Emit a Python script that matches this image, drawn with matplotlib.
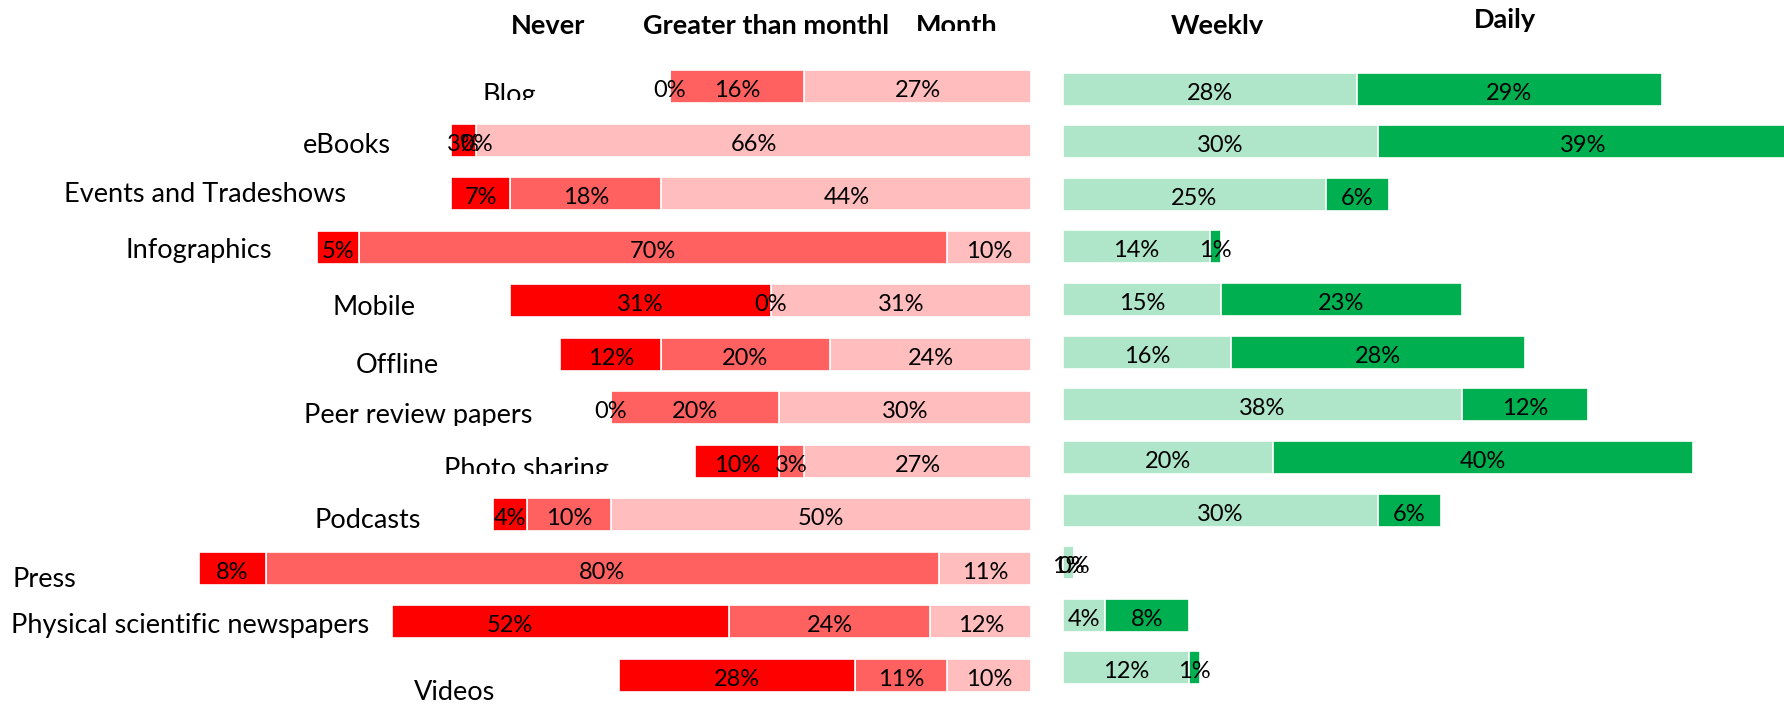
import matplotlib.pyplot as plt
from matplotlib.transforms import Bbox, TransformedBbox, offset_copy

plt.rcParams['font.family'] = ['Lato', 'DejaVu Sans']

categories = ["Blog", "eBooks", "Events and Tradeshows", "Infographics", "Mobile",
              "Offline", "Peer review papers", "Photo sharing", "Podcasts", "Press",
              "Physical scientific newspapers", "Videos"]
never = [0, 3, 7, 5, 31, 12, 0, 10, 4, 8, 52, 28]
gt_monthly = [16, 0, 18, 70, 0, 20, 20, 3, 10, 80, 24, 11]
monthly = [27, 66, 44, 10, 31, 24, 30, 27, 50, 11, 12, 10]
weekly = [28, 30, 25, 14, 15, 16, 38, 20, 30, 1, 4, 12]
daily = [29, 39, 6, 1, 23, 28, 12, 40, 6, 0, 8, 1]
# the Never bar of "Physical scientific newspapers" is drawn shorter than its 52% label
never_drawn = [0, 3, 7, 5, 31, 12, 0, 10, 4, 8, 40, 28]

headers = ["Never", "Greater than monthly", "Monthly", "Weekly", "Daily"]

c_never, c_gtm, c_month = '#FF0000', '#FF6161', '#FFBDBD'
c_week, c_day = '#AFE5C8', '#00B050'

W, H = 1784, 706
fig = plt.figure(figsize=(W / 100, H / 100), dpi=100)


def px_axes(x0, x1, ytop, ybot):
    ax = fig.add_axes([x0 / W, 1 - ybot / H, (x1 - x0) / W, (ybot - ytop) / H])
    ax.set_axis_off()
    return ax


def clip_px(t, x0, x1, ytop, ybot):
    bb = Bbox.from_extents(x0 / W, 1 - ybot / H, x1 / W, 1 - ytop / H)
    t.set_clip_box(TransformedBbox(bb, fig.transFigure))
    t.set_clip_on(True)


n = len(categories)
rows = list(range(n))
fs = 17      # numbers in the bars
fs_lab = 19.5  # category names and headers

# left half: Never / Greater than monthly / Monthly growing to the left
axl = px_axes(0, 1031.4, 59.7, 702.3)
axl.set_xlim(1031.4 / 8.41, 0)
axl.set_ylim(n - 0.5, -0.5)
gtm_left = monthly
never_left = [m + g for m, g in zip(monthly, gt_monthly)]
kw = dict(height=0.616, edgecolor='white', linewidth=1.2)
axl.barh(rows, monthly, left=0, color=c_month, **kw)
axl.barh(rows, gt_monthly, left=gtm_left, color=c_gtm, **kw)
axl.barh(rows, never_drawn, left=never_left, color=c_never, **kw)

tl = offset_copy(axl.transData, fig=fig, x=0, y=-10.5, units='dots')
for i in rows:
    axl.text(monthly[i] / 2, i, f"{monthly[i]}%", ha='center', va='baseline',
             fontsize=fs, transform=tl)
    axl.text(gtm_left[i] + gt_monthly[i] / 2, i, f"{gt_monthly[i]}%", ha='center',
             va='baseline', fontsize=fs, transform=tl)
    axl.text(never_left[i] + never[i] / 2, i, f"{never[i]}%", ha='center',
             va='baseline', fontsize=fs, transform=tl)

# right half: Weekly / Daily
axr = px_axes(1063, 1784, 62.7, 694.3)
axr.set_xlim(0, 721 / 10.5)
axr.set_ylim(n - 0.5, -0.5)
kw = dict(height=0.627, edgecolor='white', linewidth=1.2)
axr.barh(rows, weekly, left=0, color=c_week, **kw)
axr.barh(rows, daily, left=weekly, color=c_day, **kw)
tr = offset_copy(axr.transData, fig=fig, x=0, y=-10.5, units='dots')
for i in rows:
    axr.text(weekly[i] / 2, i, f"{weekly[i]}%", ha='center', va='baseline',
             fontsize=fs, transform=tr)
    axr.text(weekly[i] + daily[i] / 2, i, f"{daily[i]}%", ha='center',
             va='baseline', fontsize=fs, transform=tr)

# category labels, placed like the loose text boxes of the original
cat_x = [509, 347, 205, 199, 374, 397, 418, 526, 368, 44, 190, 455]
cat_base = [103, 153, 202, 258, 315, 373, 423, 477, 528, 587, 633, 700]
cat_clip = {0: 99.5, 6: 426, 7: 474}
for i, lab in enumerate(categories):
    t = fig.text(cat_x[i] / W, 1 - cat_base[i] / H, lab, ha='center', va='baseline',
                 fontsize=fs_lab)
    if i in cat_clip:
        clip_px(t, 0, W, 0, cat_clip[i])

# column headers, cut off by their boxes
hx = [548, 643, 916, 1217, 1505]
ha = ['center', 'left', 'left', 'center', 'center']
hbase = [33.5, 33.5, 33.5, 33.5, 28]
hclip = [(0, W, 34), (0, 888, 34), (0, 998, 30.5), (0, W, 34), (0, W, 34)]
for i, lab in enumerate(headers):
    t = fig.text(hx[i] / W, 1 - hbase[i] / H, lab, ha=ha[i], va='baseline',
                 fontsize=fs_lab, fontweight='bold')
    x0, x1, yb = hclip[i]
    clip_px(t, x0, x1, 0, yb)

fig.savefig('out.png', dpi=100)
